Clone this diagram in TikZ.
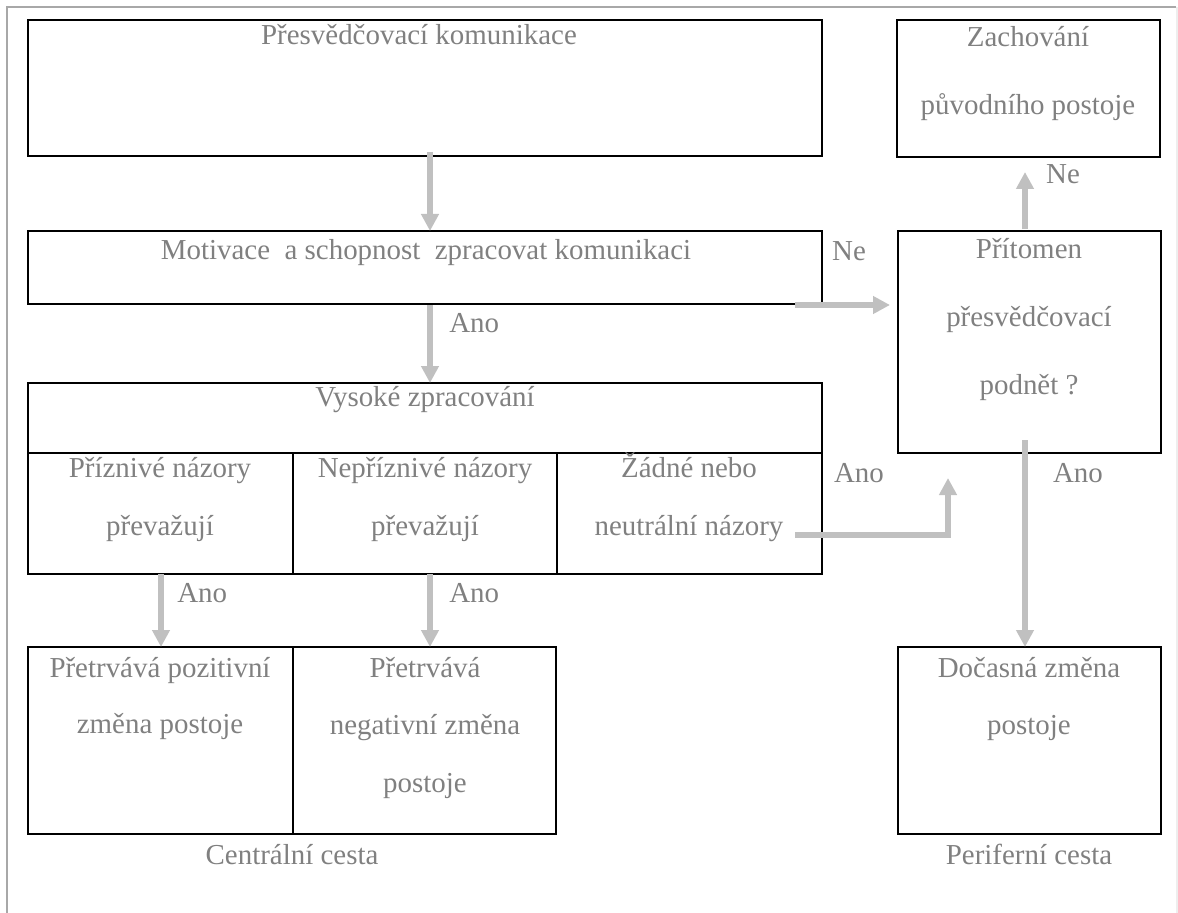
\documentclass[tikz,border=0pt]{standalone}
\usepackage{fontspec}
\setmainfont{Liberation Serif}
\usetikzlibrary{arrows.meta,calc,fit}
\definecolor{txtgray}{HTML}{808080}
\definecolor{arrgray}{HTML}{C0C0C0}
\definecolor{framegray}{HTML}{A8A8A8}
\definecolor{edgegray}{HTML}{EEEEEE}
\begin{document}
\begin{tikzpicture}[x=0.75pt,y=-0.75pt,
  panel/.style={draw=black,line width=1.5pt,inner sep=0pt,outer sep=0pt},
  lbl/.style={text=txtgray,font=\fontsize{21.7}{26}\selectfont,inner sep=0pt,anchor=base},
  arr/.style={draw=arrgray,line width=4.5pt,-{Triangle[width=12.75pt,length=12.75pt]}},
]
\useasboundingbox (0,0) rectangle (1178,913);

% page frame
\coordinate (f1) at (7,913);
\coordinate (f2) at (7,7);
\coordinate (f3) at (1176,7);
\coordinate (f4) at (1177,7);
\coordinate (f5) at (1177,913);
\draw[edgegray,line width=1pt] (f4) -- (f5);
\draw[framegray,line width=1.5pt] (f1) -- (f2) -- (f3);

% boxes
\node[panel,fit={(28,20) (822,156)}] (b1) {};
\node[panel,fit={(897,20) (1160,157)}] (b2) {};
\node[panel,fit={(28,231) (822,304)}] (b3) {};
\node[panel,fit={(898,231) (1161,453)}] (b4) {};
\node[panel,fit={(28,383) (822,453)}] (b5) {};
\node[panel,fit={(28,453) (293,574)}] (c1) {};
\node[panel,fit={(293,453) (557,574)}] (c2) {};
\node[panel,fit={(557,453) (822,574)}] (c3) {};
\node[panel,fit={(28,647) (293,834)}] (d1) {};
\node[panel,fit={(293,647) (556,834)}] (d2) {};
\node[panel,fit={(898,647) (1161,834)}] (d3) {};

% box texts
\node[lbl] (t1) at (419,45) {Přesvědčovací komunikace};
\node[lbl] (t2a) at (1028,47) {Zachování};
\node[lbl] (t2b) at (1028,115) {původního postoje};
\node[lbl] (t3) at (426,259) {Motivace\ \ a schopnost\ \ zpracovat komunikaci};
\node[lbl] (t4a) at (1029,258) {Přítomen};
\node[lbl] (t4b) at (1029,326) {přesvědčovací};
\node[lbl] (t4c) at (1029,394) {podnět ?};
\node[lbl] (t5) at (425,406) {Vysoké zpracování};
\node[lbl] (t6a) at (160,477) {Příznivé názory};
\node[lbl] (t6b) at (160,535) {převažují};
\node[lbl] (t7a) at (425,477) {Nepříznivé názory};
\node[lbl] (t7b) at (425,535) {převažují};
\node[lbl] (t8a) at (689,477) {Žádné nebo};
\node[lbl] (t8b) at (689,535) {neutrální názory};
\node[lbl] (t9a) at (160,677) {Přetrvává pozitivní};
\node[lbl] (t9b) at (160,733) {změna postoje};
\node[lbl] (t10a) at (425,677) {Přetrvává};
\node[lbl] (t10b) at (425,734) {negativní změna};
\node[lbl] (t10c) at (425,792) {postoje};
\node[lbl] (t11a) at (1029,677) {Dočasná změna};
\node[lbl] (t11b) at (1029,734) {postoje};
\node[lbl] (cap1) at (292,864) {Centrální cesta};
\node[lbl] (cap2) at (1029,864) {Periferní cesta};

% branch labels
\node[lbl,anchor=base west] (ano1) at (449,332) {Ano};
\node[lbl] (ne1) at (849,260) {Ne};
\node[lbl] (ne2) at (1063,184) {Ne};
\node[lbl] (ano2) at (859,482) {Ano};
\node[lbl] (ano3) at (1078,482) {Ano};
\node[lbl,anchor=base west] (ano4) at (177,602) {Ano};
\node[lbl,anchor=base west] (ano5) at (449,602) {Ano};

% arrow columns
\coordinate (xl) at (161,0);
\coordinate (xm) at (430,0);
\coordinate (xr) at (1025,0);

% connectors
\draw[arr] ($(b1.south -| xm)+(0,-4)$) -- (b3.north -| xm);
\draw[arr] ($(b3.south east)+(-27,1)$) -- ($(b4.west |- b3.south)+(-8,1)$);
\draw[arr] ($(b3.south -| xm)+(0,1)$) -- (b5.north -| xm);
\draw[arr] ($(b4.north -| xr)+(0,-2)$) -- ($(b2.south -| xr)+(0,15)$);
\draw[arr] ($(b4.south -| xr)+(0,-13)$) -- (d3.north -| xr);
\draw[arr] ($(c3.south east)+(-27,-39)$) -| ($(b4.south)+(-81.5,25)$);
\draw[arr] (c1.south -| xl) -- (d1.north -| xl);
\draw[arr] (c2.south -| xm) -- (d2.north -| xm);
\end{tikzpicture}
\end{document}
